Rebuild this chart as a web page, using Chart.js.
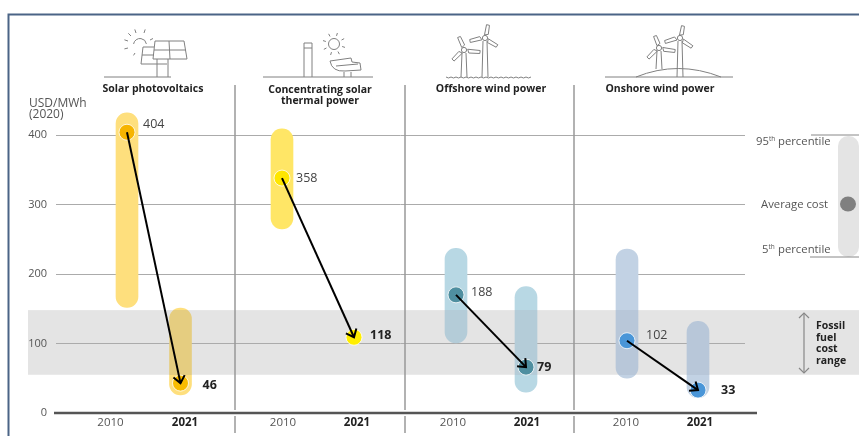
<!DOCTYPE html>
<html><head><meta charset="utf-8">
<style>html,body{margin:0;padding:0;background:#fff}canvas{display:block;filter:blur(0.4px)}</style>
<script src="https://cdn.jsdelivr.net/npm/chart.js@4/dist/chart.umd.min.js"></script>
</head><body><canvas id="c" width="859" height="436"></canvas>
<script>
// ---- data ----
const years = ['2010','2021','2010','2021','2010','2021','2010','2021'];
const technologies = ['Solar photovoltaics',['Concentrating solar','thermal power'],'Offshore wind power','Onshore wind power'];
const yTicks = [0,100,200,300,400];
const rangeLow  = [152,26,265,null,101,30,50,22];
const rangeHigh = [432,151,409,null,237,182,236,132];
const markerCost = [404,43,338,109,170,66,104,33];
const markerLabels = ['404','46','358','118','188','79','102','33'];
const fossilRange = [55,148];
const yAxisMax = 450;

// ---- layout constants (x scale runs in page-wide panel units) ----
const columnAt = [127,180.5,282,354,456,526,627,698];
const yearLabelAt = [110.5,185,283,357,453,527,626,700];
const dividers = [235,405,574];
const labelOffset = [[16,-8],[22,2],[14,0],[16,-2],[15,-2],[11,0],[19,-5],[23,0]];
const FONT = '"Open Sans", sans-serif';
const barOut = ['#FEDF7D','#FEDF7D','#FFE666','#FFE666','#B8D8E4','#B8D8E4','#C2D2E4','#C2D2E4'];
const barIn  = ['#E5CD80','#E5CD80','#E8D060','#E8D060','#B4CCD8','#B4CCD8','#B8C7D9','#B8C7D9'];
const dotFill = ['#F6B400','#F9BC00','#FFE600','#FFEE00','#4F8FA0','#4F8FA0','#4A96D8','#4A96D8'];

function bandFill(ctx){
  const i = ctx.dataIndex, ch = ctx.chart;
  if(!ch.scales.y || i===undefined) return barOut[i||0];
  const H = ch.height, a = ch.scales.y.getPixelForValue(fossilRange[1])/H, b = ch.scales.y.getPixelForValue(fossilRange[0])/H;
  if(!Number.isFinite(a) || !Number.isFinite(b)) return barOut[i];
  const g = ch.ctx.createLinearGradient(0,0,0,H);
  g.addColorStop(0,barOut[i]); g.addColorStop(a,barOut[i]); g.addColorStop(a,barIn[i]);
  g.addColorStop(b,barIn[i]); g.addColorStop(b,barOut[i]); g.addColorStop(1,barOut[i]);
  return g;
}
function line(c,pts,close){c.beginPath();pts.forEach((p,i)=>i?c.lineTo(p[0],p[1]):c.moveTo(p[0],p[1]));if(close)c.closePath();c.stroke();}
function sun(c,x,y,r){
  c.beginPath();c.arc(x,y,r,0,Math.PI*2);c.stroke();
  for(let k=0;k<8;k++){const a=k*Math.PI/4+0.3;line(c,[[x+Math.cos(a)*(r+3),y+Math.sin(a)*(r+3)],[x+Math.cos(a)*(r+6),y+Math.sin(a)*(r+6)]]);}
}
function blade(c,h,t){
  const dx=t[0]-h[0],dy=t[1]-h[1],L=Math.hypot(dx,dy),nx=-dy/L,ny=dx/L;
  const m=[h[0]+dx*.22,h[1]+dy*.22];
  line(c,[[m[0]-nx*1.2,m[1]-ny*1.2],[m[0]+dx*.1+nx*2.4,m[1]+dy*.1+ny*2.4],[t[0]+nx*1.5,t[1]+ny*1.5],[t[0]-nx*1.5,t[1]-ny*1.5]],true);
}
function turbine(c,hub,tips,base){
  c.beginPath();c.arc(hub[0],hub[1],2.6,0,Math.PI*2);c.stroke();
  tips.forEach(t=>blade(c,hub,t));
  line(c,[[hub[0]-2,hub[1]+3],[hub[0]-3,base]]);line(c,[[hub[0]+2,hub[1]+3],[hub[0]+3,base]]);
}
function icons(c){
  c.save();c.strokeStyle='#808080';c.lineWidth=1;
  // solar PV
  line(c,[[104,77],[171,77]]);
  c.beginPath();c.arc(140,45,6.5,Math.PI*1.05,Math.PI*1.95);c.stroke();
  [[128,41],[131,36],[136,33],[144,33],[150,40],[128,48],[135,53]].forEach((p,i)=>{line(c,[[p[0],p[1]],[p[0]+(p[0]-140)*.3,p[1]+(p[1]-45)*.3]]);});
  line(c,[[155,41],[184,41],[187,59],[153,59]],true);
  line(c,[[154,50],[186,50]]);line(c,[[169,41],[170,59]]);
  line(c,[[154,47],[143,47],[141,64],[167,64]]);line(c,[[142,55],[154,55]]);
  line(c,[[157,59],[157,77]]);line(c,[[168,59],[168,77]]);
  // concentrating solar
  line(c,[[263,77],[373,77]]);
  line(c,[[304,77],[304,43],[312,43],[312,77]]);line(c,[[304,48],[312,48]]);
  sun(c,334,44,5.5);
  c.beginPath();c.moveTo(330,61);c.lineTo(351,58);c.lineTo(352,62);c.lineTo(360,63);c.lineTo(361,70);c.lineTo(345,71);c.quadraticCurveTo(332,72,330,61);c.stroke();
  line(c,[[336,66],[358,64]]);
  line(c,[[344,72],[344,77]]);line(c,[[351,72],[351,77]]);
  // offshore
  c.beginPath();c.moveTo(446,77);for(let x=446;x<530;x+=5){c.quadraticCurveTo(x+2.5,79,x+5,77);}c.stroke();
  turbine(c,[464,50],[[459,37],[480,52],[453,60]],77);
  turbine(c,[485,38],[[488,25],[497,46],[470,41]],77);
  // onshore
  line(c,[[605,77],[733,77]]);
  c.beginPath();c.moveTo(636,77);c.quadraticCurveTo(678,60,721,77);c.stroke();
  turbine(c,[659,48],[[655,36],[675,51],[648,58]],69);
  turbine(c,[680,38],[[683,26],[692,47],[665,42]],77);
  c.restore();
}
const art = {
  id:'art',
  beforeDraw(ch){
    const c=ch.ctx,y=ch.scales.y;
    c.save();
    c.fillStyle='#E4E4E4';
    const t=y.getPixelForValue(fossilRange[1]),b=y.getPixelForValue(fossilRange[0]);
    c.fillRect(28,t,831,b-t);
    c.strokeStyle='#4B6486';c.lineWidth=2;line(c,[[859,14.5],[8.5,14.5],[8.5,436]]);
    c.restore();
  },
  beforeDatasetsDraw(ch){
    const c=ch.ctx,y=ch.scales.y,x=ch.scales.x,z=y.getPixelForValue(0);
    c.save();
    c.strokeStyle='#999';c.lineWidth=1.5;
    dividers.forEach(d=>{const p=x.getPixelForValue(d);line(c,[[p,85],[p,z-3]]);line(c,[[p,z+3],[p,433]]);});
    c.strokeStyle='#555';c.lineWidth=2.4;line(c,[[54,z],[757,z]]);
    c.restore();
  },
  afterDatasetsDraw(ch){
    const c=ch.ctx,pts=ch.getDatasetMeta(0).data;
    c.save();
    c.strokeStyle='#000';c.lineWidth=2;c.lineCap='butt';
    for(let i=0;i<8;i+=2){
      const a=pts[i],b=pts[i+1],ang=Math.atan2(b.y-a.y,b.x-a.x);
      line(c,[[a.x,a.y],[b.x,b.y]]);
      line(c,[[b.x+9*Math.cos(ang+2.45),b.y+9*Math.sin(ang+2.45)],[b.x,b.y],[b.x+9*Math.cos(ang-2.45),b.y+9*Math.sin(ang-2.45)]]);
    }
    c.textBaseline='middle';c.textAlign='left';
    markerLabels.forEach((t,i)=>{
      const bold=i%2===1;
      c.font=(bold?'700 ':'400 ')+'12.5px '+FONT;c.fillStyle=bold?'#222':'#444';
      c.fillText(t,pts[i].x+labelOffset[i][0],pts[i].y+labelOffset[i][1]);
    });
    c.restore();
  },
  afterDraw(ch){
    const c=ch.ctx;
    icons(c);
    c.save();
    c.textBaseline='middle';c.fillStyle='#222';c.textAlign='center';c.font='700 10.5px '+FONT;
    c.fillText(technologies[0],153,89.5);
    c.fillText(technologies[1][0],320,90);c.fillText(technologies[1][1],320,101);
    c.fillText(technologies[2],491,89.5);c.fillText(technologies[3],660,89.5);
    c.textAlign='left';c.font='400 12px '+FONT;c.fillStyle='#555';
    c.fillText('USD/MWh',29,103.5);c.fillText('(2020)',29,114.5);
    // key
    c.fillStyle='#E4E4E4';c.beginPath();c.roundRect(838,136,21,121,[10,10,10,10]);c.fill();
    c.fillStyle='#808080';c.beginPath();c.ellipse(848,204,8,7.5,0,0,Math.PI*2);c.fill();
    c.strokeStyle='#888';c.lineWidth=1;line(c,[[811,135],[859,135]]);line(c,[[810,257],[859,257]]);
    c.fillStyle='#555';c.font='400 11.3px '+FONT;
    c.fillText('95',756,142);c.font='400 6.5px '+FONT;c.fillText('th',769,139);c.font='400 11.3px '+FONT;c.fillText('percentile',778,142);
    c.fillText('Average cost',761,204.5);
    c.fillText('5',762,249.5);c.font='400 6.5px '+FONT;c.fillText('th',768.5,247);c.font='400 11.3px '+FONT;c.fillText('percentile',778,249.5);
    // fossil arrow
    c.strokeStyle='#888';c.lineWidth=1.2;
    line(c,[[804,313],[804,373]]);line(c,[[799,318],[804,313],[809,318]]);line(c,[[799,368],[804,373],[809,368]]);
    c.fillStyle='#222';c.font='700 10.5px '+FONT;
    ['Fossil','fuel','cost','range'].forEach((t,i)=>c.fillText(t,816,326.5+i*11.5));
    c.restore();
  }
};
new Chart(document.getElementById('c'),{
  type:'bar',
  data:{datasets:[
    {type:'line',showLine:false,order:0,
     data:markerCost.map((v,i)=>({x:columnAt[i],y:v})),
     pointRadius:8,pointHoverRadius:8,pointBorderWidth:1,pointBorderColor:'#FFFFFFCC',
     pointBackgroundColor:dotFill},
    {type:'bar',order:1,grouped:false,barThickness:22,
     data:rangeLow.map((v,i)=>({x:columnAt[i],y:v===null?null:[v,rangeHigh[i]]})),
     backgroundColor:bandFill,borderRadius:11,borderSkipped:false,borderWidth:0}
  ]},
  options:{
    responsive:false,animation:false,
    layout:{padding:{top:100.25,right:114,left:0,bottom:0}},
    plugins:{legend:{display:false},tooltip:{enabled:false}},
    scales:{
      x:{type:'linear',min:56,max:745,offset:false,
        grid:{display:false,drawTicks:false},border:{display:false},
        afterFit(s){s.height=23;},
        afterBuildTicks(s){s.ticks=yearLabelAt.map(v=>({value:v}));},
        ticks:{autoSkip:false,maxRotation:0,minRotation:0,padding:3,color:ctx=>ctx.index%2?'#222':'#555',
          font:ctx=>({family:FONT,size:11.5,weight:ctx.index%2?'700':'400'}),
          callback:(v,i)=>years[i]}
      },
      y:{type:'linear',min:0,max:yAxisMax,
        border:{display:false},
        grid:{color:ctx=>ctx.tick&&ctx.tick.value===0?'rgba(0,0,0,0)':'#ABABAB',lineWidth:1,drawTicks:false},
        afterFit(s){s.width=56;},
        afterBuildTicks(s){s.ticks=yTicks.map(v=>({value:v}));},
        ticks:{padding:9,color:'#555',font:{family:FONT,size:11}}
      }
    }
  },
  plugins:[art]
});
</script></body></html>
